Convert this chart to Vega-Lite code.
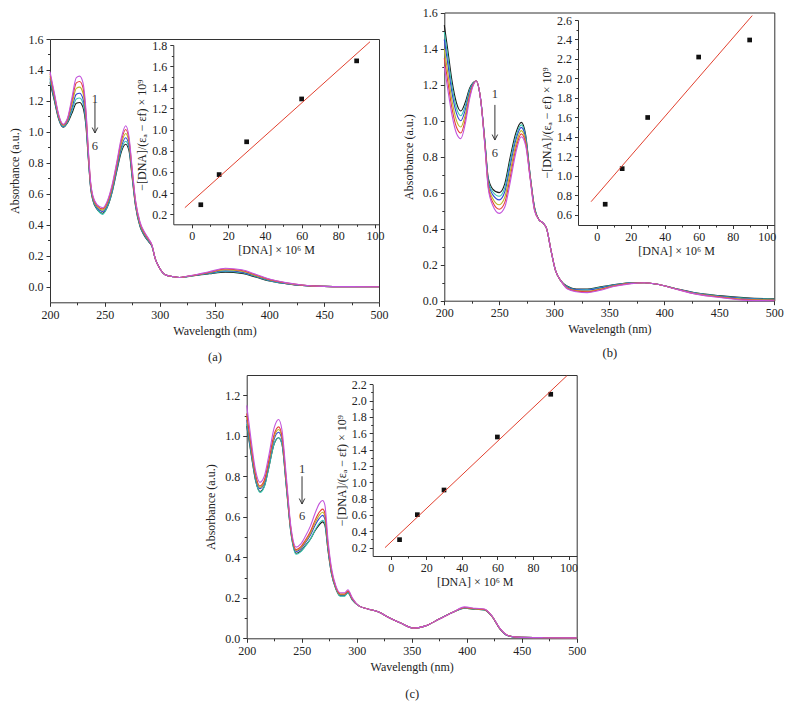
{
"$schema":"https://vega.github.io/schema/vega-lite/v6.json",
"width":790,"height":721,"autosize":{"type":"none"},"padding":0,"background":"white",
"config":{"view":{"stroke":null},"font":"Liberation Serif",
"axis":{"grid":false,"labelFont":"Liberation Serif","titleFont":"Liberation Serif","labelFontSize":12,"titleFontSize":12,"titleFontWeight":"normal","domainColor":"#333","tickColor":"#333","labelColor":"#222","titleColor":"#222","labelFlush":false,"labelOverlap":false,"tickSize":4,"labelPadding":3,"domainWidth":1,"tickWidth":1}},
"resolve":{"scale":{"x":"independent","y":"independent"},"axis":{"x":"independent","y":"independent"}},
"datasets":{
"sa":[
{"s":"k","w":200,"v":1.32},{"s":"k","w":204,"v":1.2},{"s":"k","w":208,"v":1.08},{"s":"k","w":212,"v":1.03},{"s":"k","w":216,"v":1.06},{"s":"k","w":220,"v":1.12},{"s":"k","w":224,"v":1.185},{"s":"k","w":227,"v":1.19},{"s":"k","w":230,"v":1.16},{"s":"k","w":233,"v":1.02},{"s":"k","w":235,"v":0.82},{"s":"k","w":237,"v":0.64},{"s":"k","w":239,"v":0.56},{"s":"k","w":243,"v":0.5},{"s":"k","w":248,"v":0.475},{"s":"k","w":252,"v":0.51},{"s":"k","w":257,"v":0.62},{"s":"k","w":261,"v":0.75},{"s":"k","w":265,"v":0.87},{"s":"k","w":269,"v":0.92},{"s":"k","w":272,"v":0.88},{"s":"k","w":275,"v":0.7},{"s":"k","w":278,"v":0.52},{"s":"k","w":282,"v":0.39},{"s":"k","w":286,"v":0.33},{"s":"k","w":290,"v":0.29},{"s":"k","w":293,"v":0.26},{"s":"k","w":296,"v":0.18},{"s":"k","w":300,"v":0.12},{"s":"k","w":305,"v":0.078},{"s":"k","w":312,"v":0.066},{"s":"k","w":318,"v":0.06},{"s":"k","w":325,"v":0.066},{"s":"k","w":333,"v":0.074},{"s":"k","w":345,"v":0.084},{"s":"k","w":360,"v":0.095},{"s":"k","w":375,"v":0.087},{"s":"k","w":388,"v":0.062},{"s":"k","w":400,"v":0.038},{"s":"k","w":415,"v":0.02},{"s":"k","w":430,"v":0.008},{"s":"k","w":450,"v":0.003},{"s":"k","w":475,"v":0.001},{"s":"k","w":500,"v":0},
{"s":"c","w":200,"v":1.332},{"s":"c","w":204,"v":1.209},{"s":"c","w":208,"v":1.085},{"s":"c","w":212,"v":1.033},{"s":"c","w":216,"v":1.065},{"s":"c","w":220,"v":1.137},{"s":"c","w":224,"v":1.213},{"s":"c","w":227,"v":1.219},{"s":"c","w":230,"v":1.187},{"s":"c","w":233,"v":1.037},{"s":"c","w":235,"v":0.83},{"s":"c","w":237,"v":0.647},{"s":"c","w":239,"v":0.565},{"s":"c","w":243,"v":0.503},{"s":"c","w":248,"v":0.468},{"s":"c","w":252,"v":0.512},{"s":"c","w":257,"v":0.625},{"s":"c","w":261,"v":0.76},{"s":"c","w":265,"v":0.885},{"s":"c","w":269,"v":0.94},{"s":"c","w":272,"v":0.895},{"s":"c","w":275,"v":0.71},{"s":"c","w":278,"v":0.527},{"s":"c","w":282,"v":0.395},{"s":"c","w":286,"v":0.334},{"s":"c","w":290,"v":0.293},{"s":"c","w":293,"v":0.262},{"s":"c","w":296,"v":0.18},{"s":"c","w":300,"v":0.12},{"s":"c","w":305,"v":0.078},{"s":"c","w":312,"v":0.066},{"s":"c","w":318,"v":0.06},{"s":"c","w":325,"v":0.066},{"s":"c","w":333,"v":0.075},{"s":"c","w":345,"v":0.086},{"s":"c","w":360,"v":0.099},{"s":"c","w":375,"v":0.091},{"s":"c","w":388,"v":0.065},{"s":"c","w":400,"v":0.04},{"s":"c","w":415,"v":0.021},{"s":"c","w":430,"v":0.009},{"s":"c","w":450,"v":0.003},{"s":"c","w":475,"v":0.001},{"s":"c","w":500,"v":0},
{"s":"b","w":200,"v":1.345},{"s":"b","w":204,"v":1.218},{"s":"b","w":208,"v":1.091},{"s":"b","w":212,"v":1.037},{"s":"b","w":216,"v":1.071},{"s":"b","w":220,"v":1.155},{"s":"b","w":224,"v":1.243},{"s":"b","w":227,"v":1.25},{"s":"b","w":230,"v":1.216},{"s":"b","w":233,"v":1.055},{"s":"b","w":235,"v":0.841},{"s":"b","w":237,"v":0.654},{"s":"b","w":239,"v":0.571},{"s":"b","w":243,"v":0.511},{"s":"b","w":248,"v":0.487},{"s":"b","w":252,"v":0.524},{"s":"b","w":257,"v":0.638},{"s":"b","w":261,"v":0.771},{"s":"b","w":265,"v":0.902},{"s":"b","w":269,"v":0.962},{"s":"b","w":272,"v":0.912},{"s":"b","w":275,"v":0.721},{"s":"b","w":278,"v":0.534},{"s":"b","w":282,"v":0.401},{"s":"b","w":286,"v":0.339},{"s":"b","w":290,"v":0.297},{"s":"b","w":293,"v":0.264},{"s":"b","w":296,"v":0.18},{"s":"b","w":300,"v":0.12},{"s":"b","w":305,"v":0.078},{"s":"b","w":312,"v":0.066},{"s":"b","w":318,"v":0.06},{"s":"b","w":325,"v":0.067},{"s":"b","w":333,"v":0.075},{"s":"b","w":345,"v":0.089},{"s":"b","w":360,"v":0.104},{"s":"b","w":375,"v":0.095},{"s":"b","w":388,"v":0.068},{"s":"b","w":400,"v":0.042},{"s":"b","w":415,"v":0.022},{"s":"b","w":430,"v":0.009},{"s":"b","w":450,"v":0.003},{"s":"b","w":475,"v":0.001},{"s":"b","w":500,"v":0},
{"s":"o","w":200,"v":1.361},{"s":"o","w":204,"v":1.229},{"s":"o","w":208,"v":1.097},{"s":"o","w":212,"v":1.042},{"s":"o","w":216,"v":1.077},{"s":"o","w":220,"v":1.178},{"s":"o","w":224,"v":1.281},{"s":"o","w":227,"v":1.289},{"s":"o","w":230,"v":1.253},{"s":"o","w":233,"v":1.078},{"s":"o","w":235,"v":0.855},{"s":"o","w":237,"v":0.663},{"s":"o","w":239,"v":0.577},{"s":"o","w":243,"v":0.517},{"s":"o","w":248,"v":0.495},{"s":"o","w":252,"v":0.533},{"s":"o","w":257,"v":0.649},{"s":"o","w":261,"v":0.785},{"s":"o","w":265,"v":0.922},{"s":"o","w":269,"v":0.99},{"s":"o","w":272,"v":0.932},{"s":"o","w":275,"v":0.735},{"s":"o","w":278,"v":0.543},{"s":"o","w":282,"v":0.407},{"s":"o","w":286,"v":0.345},{"s":"o","w":290,"v":0.302},{"s":"o","w":293,"v":0.266},{"s":"o","w":296,"v":0.18},{"s":"o","w":300,"v":0.12},{"s":"o","w":305,"v":0.078},{"s":"o","w":312,"v":0.066},{"s":"o","w":318,"v":0.06},{"s":"o","w":325,"v":0.067},{"s":"o","w":333,"v":0.076},{"s":"o","w":345,"v":0.092},{"s":"o","w":360,"v":0.11},{"s":"o","w":375,"v":0.1},{"s":"o","w":388,"v":0.072},{"s":"o","w":400,"v":0.045},{"s":"o","w":415,"v":0.024},{"s":"o","w":430,"v":0.01},{"s":"o","w":450,"v":0.003},{"s":"o","w":475,"v":0.001},{"s":"o","w":500,"v":0},
{"s":"r","w":200,"v":1.376},{"s":"r","w":204,"v":1.24},{"s":"r","w":208,"v":1.104},{"s":"r","w":212,"v":1.046},{"s":"r","w":216,"v":1.084},{"s":"r","w":220,"v":1.2},{"s":"r","w":224,"v":1.317},{"s":"r","w":227,"v":1.326},{"s":"r","w":230,"v":1.288},{"s":"r","w":233,"v":1.1},{"s":"r","w":235,"v":0.868},{"s":"r","w":237,"v":0.672},{"s":"r","w":239,"v":0.584},{"s":"r","w":243,"v":0.524},{"s":"r","w":248,"v":0.503},{"s":"r","w":252,"v":0.542},{"s":"r","w":257,"v":0.66},{"s":"r","w":261,"v":0.798},{"s":"r","w":265,"v":0.942},{"s":"r","w":269,"v":1.016},{"s":"r","w":272,"v":0.952},{"s":"r","w":275,"v":0.748},{"s":"r","w":278,"v":0.552},{"s":"r","w":282,"v":0.414},{"s":"r","w":286,"v":0.35},{"s":"r","w":290,"v":0.306},{"s":"r","w":293,"v":0.268},{"s":"r","w":296,"v":0.18},{"s":"r","w":300,"v":0.12},{"s":"r","w":305,"v":0.078},{"s":"r","w":312,"v":0.066},{"s":"r","w":318,"v":0.06},{"s":"r","w":325,"v":0.068},{"s":"r","w":333,"v":0.077},{"s":"r","w":345,"v":0.094},{"s":"r","w":360,"v":0.115},{"s":"r","w":375,"v":0.105},{"s":"r","w":388,"v":0.076},{"s":"r","w":400,"v":0.048},{"s":"r","w":415,"v":0.026},{"s":"r","w":430,"v":0.011},{"s":"r","w":450,"v":0.003},{"s":"r","w":475,"v":0.001},{"s":"r","w":500,"v":0},
{"s":"m","w":200,"v":1.39},{"s":"m","w":204,"v":1.25},{"s":"m","w":208,"v":1.11},{"s":"m","w":212,"v":1.05},{"s":"m","w":216,"v":1.09},{"s":"m","w":220,"v":1.22},{"s":"m","w":224,"v":1.35},{"s":"m","w":227,"v":1.36},{"s":"m","w":230,"v":1.32},{"s":"m","w":233,"v":1.12},{"s":"m","w":235,"v":0.88},{"s":"m","w":237,"v":0.68},{"s":"m","w":239,"v":0.59},{"s":"m","w":243,"v":0.53},{"s":"m","w":248,"v":0.51},{"s":"m","w":252,"v":0.55},{"s":"m","w":257,"v":0.67},{"s":"m","w":261,"v":0.81},{"s":"m","w":265,"v":0.96},{"s":"m","w":269,"v":1.04},{"s":"m","w":272,"v":0.97},{"s":"m","w":275,"v":0.76},{"s":"m","w":278,"v":0.56},{"s":"m","w":282,"v":0.42},{"s":"m","w":286,"v":0.355},{"s":"m","w":290,"v":0.31},{"s":"m","w":293,"v":0.27},{"s":"m","w":296,"v":0.18},{"s":"m","w":300,"v":0.12},{"s":"m","w":305,"v":0.078},{"s":"m","w":312,"v":0.066},{"s":"m","w":318,"v":0.06},{"s":"m","w":325,"v":0.068},{"s":"m","w":333,"v":0.078},{"s":"m","w":345,"v":0.097},{"s":"m","w":360,"v":0.12},{"s":"m","w":375,"v":0.11},{"s":"m","w":388,"v":0.08},{"s":"m","w":400,"v":0.05},{"s":"m","w":415,"v":0.027},{"s":"m","w":430,"v":0.012},{"s":"m","w":450,"v":0.003},{"s":"m","w":475,"v":0.001},{"s":"m","w":500,"v":0}
],
"sb":[
{"s":"k","w":200,"v":1.53},{"s":"k","w":203,"v":1.4},{"s":"k","w":207,"v":1.22},{"s":"k","w":211,"v":1.1},{"s":"k","w":215,"v":1.053},{"s":"k","w":219,"v":1.1},{"s":"k","w":223,"v":1.18},{"s":"k","w":226,"v":1.21},{"s":"k","w":229,"v":1.22},{"s":"k","w":233,"v":1.12},{"s":"k","w":237,"v":0.88},{"s":"k","w":240,"v":0.68},{"s":"k","w":244,"v":0.62},{"s":"k","w":250,"v":0.6},{"s":"k","w":255,"v":0.65},{"s":"k","w":260,"v":0.8},{"s":"k","w":265,"v":0.93},{"s":"k","w":270,"v":0.99},{"s":"k","w":274,"v":0.92},{"s":"k","w":278,"v":0.7},{"s":"k","w":282,"v":0.52},{"s":"k","w":286,"v":0.45},{"s":"k","w":290,"v":0.43},{"s":"k","w":293,"v":0.4},{"s":"k","w":297,"v":0.28},{"s":"k","w":301,"v":0.17},{"s":"k","w":306,"v":0.11},{"s":"k","w":312,"v":0.08},{"s":"k","w":320,"v":0.065},{"s":"k","w":330,"v":0.065},{"s":"k","w":340,"v":0.075},{"s":"k","w":355,"v":0.09},{"s":"k","w":370,"v":0.1},{"s":"k","w":382,"v":0.1},{"s":"k","w":395,"v":0.09},{"s":"k","w":410,"v":0.068},{"s":"k","w":430,"v":0.042},{"s":"k","w":450,"v":0.028},{"s":"k","w":475,"v":0.016},{"s":"k","w":500,"v":0.01},
{"s":"c","w":200,"v":1.491},{"s":"c","w":203,"v":1.363},{"s":"c","w":207,"v":1.188},{"s":"c","w":211,"v":1.071},{"s":"c","w":215,"v":1.027},{"s":"c","w":219,"v":1.08},{"s":"c","w":223,"v":1.17},{"s":"c","w":226,"v":1.207},{"s":"c","w":229,"v":1.22},{"s":"c","w":233,"v":1.12},{"s":"c","w":237,"v":0.875},{"s":"c","w":240,"v":0.67},{"s":"c","w":244,"v":0.605},{"s":"c","w":250,"v":0.58},{"s":"c","w":255,"v":0.628},{"s":"c","w":260,"v":0.776},{"s":"c","w":265,"v":0.911},{"s":"c","w":270,"v":0.976},{"s":"c","w":274,"v":0.91},{"s":"c","w":278,"v":0.697},{"s":"c","w":282,"v":0.517},{"s":"c","w":286,"v":0.45},{"s":"c","w":290,"v":0.43},{"s":"c","w":293,"v":0.4},{"s":"c","w":297,"v":0.28},{"s":"c","w":301,"v":0.17},{"s":"c","w":306,"v":0.11},{"s":"c","w":312,"v":0.077},{"s":"c","w":320,"v":0.062},{"s":"c","w":330,"v":0.062},{"s":"c","w":340,"v":0.072},{"s":"c","w":355,"v":0.088},{"s":"c","w":370,"v":0.099},{"s":"c","w":382,"v":0.1},{"s":"c","w":395,"v":0.09},{"s":"c","w":410,"v":0.067},{"s":"c","w":430,"v":0.041},{"s":"c","w":450,"v":0.026},{"s":"c","w":475,"v":0.014},{"s":"c","w":500,"v":0.008},
{"s":"b","w":200,"v":1.45},{"s":"b","w":203,"v":1.323},{"s":"b","w":207,"v":1.154},{"s":"b","w":211,"v":1.041},{"s":"b","w":215,"v":0.999},{"s":"b","w":219,"v":1.058},{"s":"b","w":223,"v":1.159},{"s":"b","w":226,"v":1.203},{"s":"b","w":229,"v":1.22},{"s":"b","w":233,"v":1.12},{"s":"b","w":237,"v":0.87},{"s":"b","w":240,"v":0.659},{"s":"b","w":244,"v":0.589},{"s":"b","w":250,"v":0.56},{"s":"b","w":255,"v":0.605},{"s":"b","w":260,"v":0.751},{"s":"b","w":265,"v":0.892},{"s":"b","w":270,"v":0.962},{"s":"b","w":274,"v":0.899},{"s":"b","w":278,"v":0.693},{"s":"b","w":282,"v":0.513},{"s":"b","w":286,"v":0.45},{"s":"b","w":290,"v":0.43},{"s":"b","w":293,"v":0.4},{"s":"b","w":297,"v":0.28},{"s":"b","w":301,"v":0.17},{"s":"b","w":306,"v":0.11},{"s":"b","w":312,"v":0.075},{"s":"b","w":320,"v":0.06},{"s":"b","w":330,"v":0.058},{"s":"b","w":340,"v":0.068},{"s":"b","w":355,"v":0.087},{"s":"b","w":370,"v":0.098},{"s":"b","w":382,"v":0.1},{"s":"b","w":395,"v":0.09},{"s":"b","w":410,"v":0.067},{"s":"b","w":430,"v":0.04},{"s":"b","w":450,"v":0.025},{"s":"b","w":475,"v":0.011},{"s":"b","w":500,"v":0.0065},
{"s":"o","w":200,"v":1.397},{"s":"o","w":203,"v":1.272},{"s":"o","w":207,"v":1.11},{"s":"o","w":211,"v":1.001},{"s":"o","w":215,"v":0.964},{"s":"o","w":219,"v":1.03},{"s":"o","w":223,"v":1.145},{"s":"o","w":226,"v":1.198},{"s":"o","w":229,"v":1.22},{"s":"o","w":233,"v":1.12},{"s":"o","w":237,"v":0.863},{"s":"o","w":240,"v":0.645},{"s":"o","w":244,"v":0.568},{"s":"o","w":250,"v":0.533},{"s":"o","w":255,"v":0.575},{"s":"o","w":260,"v":0.719},{"s":"o","w":265,"v":0.866},{"s":"o","w":270,"v":0.944},{"s":"o","w":274,"v":0.885},{"s":"o","w":278,"v":0.688},{"s":"o","w":282,"v":0.508},{"s":"o","w":286,"v":0.45},{"s":"o","w":290,"v":0.43},{"s":"o","w":293,"v":0.4},{"s":"o","w":297,"v":0.28},{"s":"o","w":301,"v":0.17},{"s":"o","w":306,"v":0.11},{"s":"o","w":312,"v":0.071},{"s":"o","w":320,"v":0.056},{"s":"o","w":330,"v":0.053},{"s":"o","w":340,"v":0.063},{"s":"o","w":355,"v":0.084},{"s":"o","w":370,"v":0.097},{"s":"o","w":382,"v":0.1},{"s":"o","w":395,"v":0.09},{"s":"o","w":410,"v":0.066},{"s":"o","w":430,"v":0.038},{"s":"o","w":450,"v":0.022},{"s":"o","w":475,"v":0.008},{"s":"o","w":500,"v":0.004},
{"s":"r","w":200,"v":1.346},{"s":"r","w":203,"v":1.224},{"s":"r","w":207,"v":1.068},{"s":"r","w":211,"v":0.964},{"s":"r","w":215,"v":0.931},{"s":"r","w":219,"v":1.004},{"s":"r","w":223,"v":1.132},{"s":"r","w":226,"v":1.194},{"s":"r","w":229,"v":1.22},{"s":"r","w":233,"v":1.12},{"s":"r","w":237,"v":0.856},{"s":"r","w":240,"v":0.632},{"s":"r","w":244,"v":0.548},{"s":"r","w":250,"v":0.508},{"s":"r","w":255,"v":0.546},{"s":"r","w":260,"v":0.688},{"s":"r","w":265,"v":0.842},{"s":"r","w":270,"v":0.926},{"s":"r","w":274,"v":0.872},{"s":"r","w":278,"v":0.684},{"s":"r","w":282,"v":0.504},{"s":"r","w":286,"v":0.45},{"s":"r","w":290,"v":0.43},{"s":"r","w":293,"v":0.4},{"s":"r","w":297,"v":0.28},{"s":"r","w":301,"v":0.17},{"s":"r","w":306,"v":0.11},{"s":"r","w":312,"v":0.068},{"s":"r","w":320,"v":0.053},{"s":"r","w":330,"v":0.049},{"s":"r","w":340,"v":0.059},{"s":"r","w":355,"v":0.082},{"s":"r","w":370,"v":0.096},{"s":"r","w":382,"v":0.1},{"s":"r","w":395,"v":0.09},{"s":"r","w":410,"v":0.066},{"s":"r","w":430,"v":0.036},{"s":"r","w":450,"v":0.02},{"s":"r","w":475,"v":0.005},{"s":"r","w":500,"v":0.002},
{"s":"m","w":200,"v":1.3},{"s":"m","w":203,"v":1.18},{"s":"m","w":207,"v":1.03},{"s":"m","w":211,"v":0.93},{"s":"m","w":215,"v":0.9},{"s":"m","w":219,"v":0.98},{"s":"m","w":223,"v":1.12},{"s":"m","w":226,"v":1.19},{"s":"m","w":229,"v":1.22},{"s":"m","w":233,"v":1.12},{"s":"m","w":237,"v":0.85},{"s":"m","w":240,"v":0.62},{"s":"m","w":244,"v":0.53},{"s":"m","w":250,"v":0.485},{"s":"m","w":255,"v":0.52},{"s":"m","w":260,"v":0.66},{"s":"m","w":265,"v":0.82},{"s":"m","w":270,"v":0.91},{"s":"m","w":274,"v":0.86},{"s":"m","w":278,"v":0.68},{"s":"m","w":282,"v":0.5},{"s":"m","w":286,"v":0.45},{"s":"m","w":290,"v":0.43},{"s":"m","w":293,"v":0.4},{"s":"m","w":297,"v":0.28},{"s":"m","w":301,"v":0.17},{"s":"m","w":306,"v":0.11},{"s":"m","w":312,"v":0.065},{"s":"m","w":320,"v":0.05},{"s":"m","w":330,"v":0.045},{"s":"m","w":340,"v":0.055},{"s":"m","w":355,"v":0.08},{"s":"m","w":370,"v":0.095},{"s":"m","w":382,"v":0.1},{"s":"m","w":395,"v":0.09},{"s":"m","w":410,"v":0.065},{"s":"m","w":430,"v":0.035},{"s":"m","w":450,"v":0.018},{"s":"m","w":475,"v":0.002},{"s":"m","w":500,"v":0}
],
"sc":[
{"s":"k","w":200,"v":1.05},{"s":"k","w":204,"v":0.91},{"s":"k","w":208,"v":0.78},{"s":"k","w":212,"v":0.725},{"s":"k","w":216,"v":0.75},{"s":"k","w":220,"v":0.84},{"s":"k","w":225,"v":0.96},{"s":"k","w":229,"v":0.99},{"s":"k","w":232,"v":0.96},{"s":"k","w":236,"v":0.75},{"s":"k","w":240,"v":0.53},{"s":"k","w":245,"v":0.42},{"s":"k","w":249,"v":0.43},{"s":"k","w":253,"v":0.455},{"s":"k","w":258,"v":0.49},{"s":"k","w":262,"v":0.53},{"s":"k","w":266,"v":0.56},{"s":"k","w":269,"v":0.575},{"s":"k","w":271,"v":0.56},{"s":"k","w":274,"v":0.43},{"s":"k","w":277,"v":0.32},{"s":"k","w":281,"v":0.245},{"s":"k","w":285,"v":0.21},{"s":"k","w":289,"v":0.21},{"s":"k","w":292,"v":0.225},{"s":"k","w":296,"v":0.19},{"s":"k","w":302,"v":0.16},{"s":"k","w":310,"v":0.145},{"s":"k","w":320,"v":0.13},{"s":"k","w":330,"v":0.1},{"s":"k","w":340,"v":0.075},{"s":"k","w":352,"v":0.05},{"s":"k","w":362,"v":0.06},{"s":"k","w":375,"v":0.095},{"s":"k","w":388,"v":0.13},{"s":"k","w":398,"v":0.148},{"s":"k","w":408,"v":0.143},{"s":"k","w":416,"v":0.14},{"s":"k","w":423,"v":0.108},{"s":"k","w":430,"v":0.048},{"s":"k","w":437,"v":0.014},{"s":"k","w":445,"v":0.006},{"s":"k","w":470,"v":0.003},{"s":"k","w":500,"v":0.002},
{"s":"c","w":200,"v":1.058},{"s":"c","w":204,"v":0.916},{"s":"c","w":208,"v":0.784},{"s":"c","w":212,"v":0.72},{"s":"c","w":216,"v":0.748},{"s":"c","w":220,"v":0.84},{"s":"c","w":225,"v":0.962},{"s":"c","w":229,"v":0.99},{"s":"c","w":232,"v":0.96},{"s":"c","w":236,"v":0.75},{"s":"c","w":240,"v":0.528},{"s":"c","w":245,"v":0.415},{"s":"c","w":249,"v":0.427},{"s":"c","w":253,"v":0.452},{"s":"c","w":258,"v":0.49},{"s":"c","w":262,"v":0.533},{"s":"c","w":266,"v":0.568},{"s":"c","w":269,"v":0.583},{"s":"c","w":271,"v":0.568},{"s":"c","w":274,"v":0.434},{"s":"c","w":277,"v":0.322},{"s":"c","w":281,"v":0.246},{"s":"c","w":285,"v":0.208},{"s":"c","w":289,"v":0.208},{"s":"c","w":292,"v":0.224},{"s":"c","w":296,"v":0.19},{"s":"c","w":302,"v":0.16},{"s":"c","w":310,"v":0.145},{"s":"c","w":320,"v":0.13},{"s":"c","w":330,"v":0.1},{"s":"c","w":340,"v":0.075},{"s":"c","w":352,"v":0.05},{"s":"c","w":362,"v":0.06},{"s":"c","w":375,"v":0.095},{"s":"c","w":388,"v":0.13},{"s":"c","w":398,"v":0.149},{"s":"c","w":408,"v":0.143},{"s":"c","w":416,"v":0.14},{"s":"c","w":423,"v":0.108},{"s":"c","w":430,"v":0.048},{"s":"c","w":437,"v":0.014},{"s":"c","w":445,"v":0.006},{"s":"c","w":470,"v":0.003},{"s":"c","w":500,"v":0.002},
{"s":"b","w":200,"v":1.08},{"s":"b","w":204,"v":0.931},{"s":"b","w":208,"v":0.795},{"s":"b","w":212,"v":0.739},{"s":"b","w":216,"v":0.765},{"s":"b","w":220,"v":0.858},{"s":"b","w":225,"v":0.984},{"s":"b","w":229,"v":1.017},{"s":"b","w":232,"v":0.981},{"s":"b","w":236,"v":0.765},{"s":"b","w":240,"v":0.539},{"s":"b","w":245,"v":0.429},{"s":"b","w":249,"v":0.441},{"s":"b","w":253,"v":0.469},{"s":"b","w":258,"v":0.51},{"s":"b","w":262,"v":0.556},{"s":"b","w":266,"v":0.592},{"s":"b","w":269,"v":0.607},{"s":"b","w":271,"v":0.59},{"s":"b","w":274,"v":0.445},{"s":"b","w":277,"v":0.329},{"s":"b","w":281,"v":0.25},{"s":"b","w":285,"v":0.215},{"s":"b","w":289,"v":0.215},{"s":"b","w":292,"v":0.23},{"s":"b","w":296,"v":0.193},{"s":"b","w":302,"v":0.16},{"s":"b","w":310,"v":0.145},{"s":"b","w":320,"v":0.13},{"s":"b","w":330,"v":0.1},{"s":"b","w":340,"v":0.075},{"s":"b","w":352,"v":0.05},{"s":"b","w":362,"v":0.06},{"s":"b","w":375,"v":0.095},{"s":"b","w":388,"v":0.13},{"s":"b","w":398,"v":0.15},{"s":"b","w":408,"v":0.145},{"s":"b","w":416,"v":0.142},{"s":"b","w":423,"v":0.109},{"s":"b","w":430,"v":0.049},{"s":"b","w":437,"v":0.014},{"s":"b","w":445,"v":0.006},{"s":"b","w":470,"v":0.003},{"s":"b","w":500,"v":0.002},
{"s":"o","w":200,"v":1.095},{"s":"o","w":204,"v":0.942},{"s":"o","w":208,"v":0.803},{"s":"o","w":212,"v":0.745},{"s":"o","w":216,"v":0.773},{"s":"o","w":220,"v":0.867},{"s":"o","w":225,"v":0.996},{"s":"o","w":229,"v":1.031},{"s":"o","w":232,"v":0.992},{"s":"o","w":236,"v":0.773},{"s":"o","w":240,"v":0.544},{"s":"o","w":245,"v":0.434},{"s":"o","w":249,"v":0.446},{"s":"o","w":253,"v":0.475},{"s":"o","w":258,"v":0.519},{"s":"o","w":262,"v":0.568},{"s":"o","w":266,"v":0.607},{"s":"o","w":269,"v":0.622},{"s":"o","w":271,"v":0.605},{"s":"o","w":274,"v":0.453},{"s":"o","w":277,"v":0.334},{"s":"o","w":281,"v":0.252},{"s":"o","w":285,"v":0.217},{"s":"o","w":289,"v":0.217},{"s":"o","w":292,"v":0.232},{"s":"o","w":296,"v":0.195},{"s":"o","w":302,"v":0.16},{"s":"o","w":310,"v":0.145},{"s":"o","w":320,"v":0.13},{"s":"o","w":330,"v":0.1},{"s":"o","w":340,"v":0.075},{"s":"o","w":352,"v":0.05},{"s":"o","w":362,"v":0.06},{"s":"o","w":375,"v":0.095},{"s":"o","w":388,"v":0.13},{"s":"o","w":398,"v":0.151},{"s":"o","w":408,"v":0.145},{"s":"o","w":416,"v":0.142},{"s":"o","w":423,"v":0.109},{"s":"o","w":430,"v":0.049},{"s":"o","w":437,"v":0.015},{"s":"o","w":445,"v":0.006},{"s":"o","w":470,"v":0.003},{"s":"o","w":500,"v":0.002},
{"s":"r","w":200,"v":1.11},{"s":"r","w":204,"v":0.952},{"s":"r","w":208,"v":0.81},{"s":"r","w":212,"v":0.752},{"s":"r","w":216,"v":0.78},{"s":"r","w":220,"v":0.876},{"s":"r","w":225,"v":1.008},{"s":"r","w":229,"v":1.044},{"s":"r","w":232,"v":1.002},{"s":"r","w":236,"v":0.78},{"s":"r","w":240,"v":0.548},{"s":"r","w":245,"v":0.438},{"s":"r","w":249,"v":0.451},{"s":"r","w":253,"v":0.482},{"s":"r","w":258,"v":0.529},{"s":"r","w":262,"v":0.581},{"s":"r","w":266,"v":0.623},{"s":"r","w":269,"v":0.638},{"s":"r","w":271,"v":0.62},{"s":"r","w":274,"v":0.46},{"s":"r","w":277,"v":0.338},{"s":"r","w":281,"v":0.254},{"s":"r","w":285,"v":0.219},{"s":"r","w":289,"v":0.219},{"s":"r","w":292,"v":0.234},{"s":"r","w":296,"v":0.196},{"s":"r","w":302,"v":0.16},{"s":"r","w":310,"v":0.145},{"s":"r","w":320,"v":0.13},{"s":"r","w":330,"v":0.1},{"s":"r","w":340,"v":0.075},{"s":"r","w":352,"v":0.05},{"s":"r","w":362,"v":0.06},{"s":"r","w":375,"v":0.095},{"s":"r","w":388,"v":0.13},{"s":"r","w":398,"v":0.152},{"s":"r","w":408,"v":0.146},{"s":"r","w":416,"v":0.143},{"s":"r","w":423,"v":0.109},{"s":"r","w":430,"v":0.049},{"s":"r","w":437,"v":0.015},{"s":"r","w":445,"v":0.006},{"s":"r","w":470,"v":0.003},{"s":"r","w":500,"v":0.002},
{"s":"m","w":200,"v":1.15},{"s":"m","w":204,"v":0.98},{"s":"m","w":208,"v":0.83},{"s":"m","w":212,"v":0.77},{"s":"m","w":216,"v":0.8},{"s":"m","w":220,"v":0.9},{"s":"m","w":225,"v":1.04},{"s":"m","w":229,"v":1.08},{"s":"m","w":232,"v":1.03},{"s":"m","w":236,"v":0.8},{"s":"m","w":240,"v":0.56},{"s":"m","w":245,"v":0.45},{"s":"m","w":249,"v":0.465},{"s":"m","w":253,"v":0.5},{"s":"m","w":258,"v":0.555},{"s":"m","w":262,"v":0.615},{"s":"m","w":266,"v":0.665},{"s":"m","w":269,"v":0.68},{"s":"m","w":271,"v":0.66},{"s":"m","w":274,"v":0.48},{"s":"m","w":277,"v":0.35},{"s":"m","w":281,"v":0.26},{"s":"m","w":285,"v":0.225},{"s":"m","w":289,"v":0.225},{"s":"m","w":292,"v":0.24},{"s":"m","w":296,"v":0.2},{"s":"m","w":302,"v":0.16},{"s":"m","w":310,"v":0.145},{"s":"m","w":320,"v":0.13},{"s":"m","w":330,"v":0.1},{"s":"m","w":340,"v":0.075},{"s":"m","w":352,"v":0.05},{"s":"m","w":362,"v":0.06},{"s":"m","w":375,"v":0.095},{"s":"m","w":388,"v":0.13},{"s":"m","w":398,"v":0.155},{"s":"m","w":408,"v":0.148},{"s":"m","w":416,"v":0.145},{"s":"m","w":423,"v":0.11},{"s":"m","w":430,"v":0.05},{"s":"m","w":437,"v":0.015},{"s":"m","w":445,"v":0.006},{"s":"m","w":470,"v":0.003},{"s":"m","w":500,"v":0.002}
],
"ann":[{"p":"a","w":241,"v":1.213,"t":"1"},{"p":"a","w":241,"v":0.909,"t":"6"},{"p":"b","w":246,"v":1.146,"t":"1"},{"p":"b","w":246,"v":0.82,"t":"6"},{"p":"c","w":250.3,"v":0.836,"t":"1"},{"p":"c","w":250.3,"v":0.602,"t":"6"}],
"arr":[{"p":"a","w":241,"v":1.187,"v2":0.993},{"p":"b","w":246,"v":1.087,"v2":0.892},{"p":"c","w":250.3,"v":0.8,"v2":0.663}],
"pts":[{"p":"a","x":5,"y":0.29},{"p":"a","x":15,"y":0.575},{"p":"a","x":30,"y":0.885},{"p":"a","x":60,"y":1.29},{"p":"a","x":90,"y":1.65},
{"p":"b","x":5,"y":0.71},{"p":"b","x":15,"y":1.075},{"p":"b","x":30,"y":1.6},{"p":"b","x":60,"y":2.22},{"p":"b","x":90,"y":2.395},
{"p":"c","x":5,"y":0.298},{"p":"c","x":15,"y":0.604},{"p":"c","x":30,"y":0.906},{"p":"c","x":60,"y":1.555},{"p":"c","x":90,"y":2.078}],
"fit":[{"p":"a","x":-3.7,"y":0.262,"x2":97.3,"y2":1.831},{"p":"b","x":-3.3,"y":0.736,"x2":91.5,"y2":2.645},{"p":"c","x":-3.2,"y":0.2,"x2":99.1,"y2":2.305}]
},
"layer":[
{"data":{"name":"sa"},"mark":{"type":"line","strokeWidth":1.1,"interpolate":"monotone"},
"encoding":{"x":{"field":"w","type":"quantitative","scale":{"domain":[200,500],"range":[50,379],"nice":false,"zero":false},"axis":{"orient":"bottom","offset":-418.7,"values":[200,250,300,350,400,450,500],"title":"Wavelength (nm)","titlePadding":5}},
"y":{"field":"v","type":"quantitative","scale":{"domain":[-0.1,1.6],"range":[302.3,39],"nice":false,"zero":false},"axis":{"orient":"left","offset":-50,"values":[0,0.2,0.4,0.6,0.8,1,1.2,1.4,1.6],"format":".1f","title":"Absorbance (a.u.)","titlePadding":7}},
"color":{"field":"s","type":"nominal","scale":{"domain":["k","c","b","o","r","m"],"range":["#1a1a1a","#35c6b0","#3344d4","#b9b826","#e5413a","#c355dc"]},"legend":null}}},
{"data":{"name":"arr"},"transform":[{"filter":"datum.p==='a'"}],"mark":{"type":"point","opacity":0},
"encoding":{"x":{"field":"w","type":"quantitative","scale":{"domain":[200,500],"range":[50,379],"nice":false,"zero":false},"axis":{"orient":"top","offset":-39,"labels":false,"ticks":false,"title":null}},
"y":{"field":"v","type":"quantitative","scale":{"domain":[-0.1,1.6],"range":[302.3,39],"nice":false,"zero":false},"axis":{"orient":"right","offset":-411,"labels":false,"ticks":false,"title":null}}}},
{"data":{"name":"arr"},"transform":[{"filter":"datum.p==='a'"}],"mark":{"type":"point","opacity":0},
"encoding":{"x":{"field":"w","type":"quantitative","scale":{"domain":[200,500],"range":[50,379],"nice":false,"zero":false},"axis":{"orient":"bottom","offset":-418.7,"values":[225,275,325,375,425,475],"labels":false,"domain":false,"tickSize":2.5,"title":"(a)","titleFontSize":12.5,"titlePadding":45}},
"y":{"field":"v","type":"quantitative","scale":{"domain":[-0.1,1.6],"range":[302.3,39],"nice":false,"zero":false},"axis":{"orient":"left","offset":-50,"values":[0.1,0.3,0.5,0.7,0.9,1.1,1.3,1.5],"labels":false,"domain":false,"tickSize":2.5,"title":null}}}},
{"data":{"name":"ann"},"transform":[{"filter":"datum.p==='a'"}],"mark":{"type":"text","fontSize":12.5,"font":"Liberation Serif","fill":"#333","color":"#333"},
"encoding":{"x":{"field":"w","type":"quantitative","scale":{"domain":[200,500],"range":[50,379],"nice":false,"zero":false},"axis":null},
"y":{"field":"v","type":"quantitative","scale":{"domain":[-0.1,1.6],"range":[302.3,39],"nice":false,"zero":false},"axis":null},"text":{"field":"t"}}},
{"data":{"name":"arr"},"transform":[{"filter":"datum.p==='a'"}],"mark":{"type":"rule","color":"#333","strokeWidth":1},
"encoding":{"x":{"field":"w","type":"quantitative","scale":{"domain":[200,500],"range":[50,379],"nice":false,"zero":false},"axis":null},
"y":{"field":"v","type":"quantitative","scale":{"domain":[-0.1,1.6],"range":[302.3,39],"nice":false,"zero":false},"axis":null},"y2":{"field":"v2"}}},
{"data":{"name":"arr"},"transform":[{"filter":"datum.p==='a'"}],"mark":{"type":"point","shape":"M-0.5,-1L0,0L0.5,-1","filled":false,"size":120,"color":"#333","strokeWidth":1,"opacity":1},
"encoding":{"x":{"field":"w","type":"quantitative","scale":{"domain":[200,500],"range":[50,379],"nice":false,"zero":false},"axis":null},
"y":{"field":"v2","type":"quantitative","scale":{"domain":[-0.1,1.6],"range":[302.3,39],"nice":false,"zero":false},"axis":null}}},
{"data":{"name":"pts"},"transform":[{"filter":"datum.p==='a'"}],"mark":{"type":"square","size":22,"color":"#111","opacity":1},
"encoding":{"x":{"field":"x","type":"quantitative","scale":{"domain":[-10,102.2],"range":[173.3,379],"nice":false,"zero":false},"axis":{"orient":"bottom","offset":-496.7,"values":[0,20,40,60,80,100],"tickSize":3.5,"title":"[DNA] × 10⁶ M","titlePadding":3}},
"y":{"field":"y","type":"quantitative","scale":{"domain":[0.105,1.8],"range":[224.3,45],"nice":false,"zero":false},"axis":{"orient":"left","offset":-173.3,"values":[0.2,0.4,0.6,0.8,1,1.2,1.4,1.6,1.8],"format":".1f","tickSize":3.5,"title":"−[DNA]/(εₐ − εf) × 10⁹","titlePadding":3}}}},
{"data":{"name":"fit"},"transform":[{"filter":"datum.p==='a'"}],"mark":{"type":"rule","color":"#e2412f","strokeWidth":1},
"encoding":{"x":{"field":"x","type":"quantitative","scale":{"domain":[-10,102.2],"range":[173.3,379],"nice":false,"zero":false},"axis":null},"x2":{"field":"x2"},
"y":{"field":"y","type":"quantitative","scale":{"domain":[0.105,1.8],"range":[224.3,45],"nice":false,"zero":false},"axis":null},"y2":{"field":"y2"}}},
{"data":{"name":"pts"},"transform":[{"filter":"datum.p==='a'"}],"mark":{"type":"point","opacity":0},
"encoding":{"x":{"field":"x","type":"quantitative","scale":{"domain":[-10,102.2],"range":[173.3,379],"nice":false,"zero":false},"axis":{"orient":"bottom","offset":-496.7,"values":[10,30,50,70,90],"labels":false,"domain":false,"tickSize":2,"title":null}},
"y":{"field":"y","type":"quantitative","scale":{"domain":[0.105,1.8],"range":[224.3,45],"nice":false,"zero":false},"axis":{"orient":"left","offset":-173.3,"values":[0.3,0.5,0.7,0.9,1.1,1.3,1.5,1.7],"labels":false,"domain":false,"tickSize":2,"title":null}}}},

{"data":{"name":"sb"},"mark":{"type":"line","strokeWidth":1.1,"interpolate":"monotone"},
"encoding":{"x":{"field":"w","type":"quantitative","scale":{"domain":[200,500],"range":[444.3,774.3],"nice":false,"zero":false},"axis":{"orient":"bottom","offset":-420.3,"values":[200,250,300,350,400,450,500],"title":"Wavelength (nm)","titlePadding":5}},
"y":{"field":"v","type":"quantitative","scale":{"domain":[0,1.6],"range":[300.7,12.5],"nice":false,"zero":false},"axis":{"orient":"left","offset":-444.3,"values":[0,0.2,0.4,0.6,0.8,1,1.2,1.4,1.6],"format":".1f","title":"Absorbance (a.u.)","titlePadding":7}},
"color":{"field":"s","type":"nominal","scale":{"domain":["k","c","b","o","r","m"],"range":["#1a1a1a","#35c6b0","#3344d4","#b9b826","#e5413a","#c355dc"]},"legend":null}}},
{"data":{"name":"arr"},"transform":[{"filter":"datum.p==='b'"}],"mark":{"type":"point","opacity":0},
"encoding":{"x":{"field":"w","type":"quantitative","scale":{"domain":[200,500],"range":[444.3,774.3],"nice":false,"zero":false},"axis":{"orient":"top","offset":-12.5,"labels":false,"ticks":false,"title":null}},
"y":{"field":"v","type":"quantitative","scale":{"domain":[0,1.6],"range":[300.7,12.5],"nice":false,"zero":false},"axis":{"orient":"right","offset":-15.7,"labels":false,"ticks":false,"title":null}}}},
{"data":{"name":"arr"},"transform":[{"filter":"datum.p==='b'"}],"mark":{"type":"point","opacity":0},
"encoding":{"x":{"field":"w","type":"quantitative","scale":{"domain":[200,500],"range":[444.3,774.3],"nice":false,"zero":false},"axis":{"orient":"bottom","offset":-420.3,"values":[225,275,325,375,425,475],"labels":false,"domain":false,"tickSize":2.5,"title":"(b)","titleFontSize":12.5,"titlePadding":43}},
"y":{"field":"v","type":"quantitative","scale":{"domain":[0,1.6],"range":[300.7,12.5],"nice":false,"zero":false},"axis":{"orient":"left","offset":-444.3,"values":[0.1,0.3,0.5,0.7,0.9,1.1,1.3,1.5],"labels":false,"domain":false,"tickSize":2.5,"title":null}}}},
{"data":{"name":"ann"},"transform":[{"filter":"datum.p==='b'"}],"mark":{"type":"text","fontSize":12.5,"font":"Liberation Serif","fill":"#333","color":"#333"},
"encoding":{"x":{"field":"w","type":"quantitative","scale":{"domain":[200,500],"range":[444.3,774.3],"nice":false,"zero":false},"axis":null},
"y":{"field":"v","type":"quantitative","scale":{"domain":[0,1.6],"range":[300.7,12.5],"nice":false,"zero":false},"axis":null},"text":{"field":"t"}}},
{"data":{"name":"arr"},"transform":[{"filter":"datum.p==='b'"}],"mark":{"type":"rule","color":"#333","strokeWidth":1},
"encoding":{"x":{"field":"w","type":"quantitative","scale":{"domain":[200,500],"range":[444.3,774.3],"nice":false,"zero":false},"axis":null},
"y":{"field":"v","type":"quantitative","scale":{"domain":[0,1.6],"range":[300.7,12.5],"nice":false,"zero":false},"axis":null},"y2":{"field":"v2"}}},
{"data":{"name":"arr"},"transform":[{"filter":"datum.p==='b'"}],"mark":{"type":"point","shape":"M-0.5,-1L0,0L0.5,-1","filled":false,"size":120,"color":"#333","strokeWidth":1,"opacity":1},
"encoding":{"x":{"field":"w","type":"quantitative","scale":{"domain":[200,500],"range":[444.3,774.3],"nice":false,"zero":false},"axis":null},
"y":{"field":"v2","type":"quantitative","scale":{"domain":[0,1.6],"range":[300.7,12.5],"nice":false,"zero":false},"axis":null}}},
{"data":{"name":"pts"},"transform":[{"filter":"datum.p==='b'"}],"mark":{"type":"square","size":22,"color":"#111","opacity":1},
"encoding":{"x":{"field":"x","type":"quantitative","scale":{"domain":[-11,104.5],"range":[578,774.3],"nice":false,"zero":false},"axis":{"orient":"bottom","offset":-496,"values":[0,20,40,60,80,100],"tickSize":3.5,"title":"[DNA] × 10⁶ M","titlePadding":3}},
"y":{"field":"y","type":"quantitative","scale":{"domain":[0.497,2.6],"range":[225,20],"nice":false,"zero":false},"axis":{"orient":"left","offset":-578,"values":[0.6,0.8,1,1.2,1.4,1.6,1.8,2,2.2,2.4,2.6],"format":".1f","tickSize":3.5,"title":"−[DNA]/(εₐ − εf) × 10⁹","titlePadding":3}}}},
{"data":{"name":"fit"},"transform":[{"filter":"datum.p==='b'"}],"mark":{"type":"rule","color":"#e2412f","strokeWidth":1},
"encoding":{"x":{"field":"x","type":"quantitative","scale":{"domain":[-11,104.5],"range":[578,774.3],"nice":false,"zero":false},"axis":null},"x2":{"field":"x2"},
"y":{"field":"y","type":"quantitative","scale":{"domain":[0.497,2.6],"range":[225,20],"nice":false,"zero":false},"axis":null},"y2":{"field":"y2"}}},
{"data":{"name":"pts"},"transform":[{"filter":"datum.p==='b'"}],"mark":{"type":"point","opacity":0},
"encoding":{"x":{"field":"x","type":"quantitative","scale":{"domain":[-11,104.5],"range":[578,774.3],"nice":false,"zero":false},"axis":{"orient":"bottom","offset":-496,"values":[10,30,50,70,90],"labels":false,"domain":false,"tickSize":2,"title":null}},
"y":{"field":"y","type":"quantitative","scale":{"domain":[0.497,2.6],"range":[225,20],"nice":false,"zero":false},"axis":{"orient":"left","offset":-578,"values":[0.7,0.9,1.1,1.3,1.5,1.7,1.9,2.1,2.3,2.5],"labels":false,"domain":false,"tickSize":2,"title":null}}}},

{"data":{"name":"sc"},"mark":{"type":"line","strokeWidth":1.1,"interpolate":"monotone"},
"encoding":{"x":{"field":"w","type":"quantitative","scale":{"domain":[200,500],"range":[246.7,576.7],"nice":false,"zero":false},"axis":{"orient":"bottom","offset":-82.7,"values":[200,250,300,350,400,450,500],"title":"Wavelength (nm)","titlePadding":5}},
"y":{"field":"v","type":"quantitative","scale":{"domain":[0,1.3],"range":[638.3,375],"nice":false,"zero":false},"axis":{"orient":"left","offset":-246.7,"values":[0,0.2,0.4,0.6,0.8,1,1.2],"format":".1f","title":"Absorbance (a.u.)","titlePadding":7}},
"color":{"field":"s","type":"nominal","scale":{"domain":["k","c","b","o","r","m"],"range":["#1a1a1a","#35c6b0","#3344d4","#b9b826","#e5413a","#c355dc"]},"legend":null}}},
{"data":{"name":"arr"},"transform":[{"filter":"datum.p==='c'"}],"mark":{"type":"point","opacity":0},
"encoding":{"x":{"field":"w","type":"quantitative","scale":{"domain":[200,500],"range":[246.7,576.7],"nice":false,"zero":false},"axis":{"orient":"top","offset":-375,"labels":false,"ticks":false,"title":null}},
"y":{"field":"v","type":"quantitative","scale":{"domain":[0,1.3],"range":[638.3,375],"nice":false,"zero":false},"axis":{"orient":"right","offset":-213.3,"labels":false,"ticks":false,"title":null}}}},
{"data":{"name":"arr"},"transform":[{"filter":"datum.p==='c'"}],"mark":{"type":"point","opacity":0},
"encoding":{"x":{"field":"w","type":"quantitative","scale":{"domain":[200,500],"range":[246.7,576.7],"nice":false,"zero":false},"axis":{"orient":"bottom","offset":-82.7,"values":[225,275,325,375,425,475],"labels":false,"domain":false,"tickSize":2.5,"title":"(c)","titleFontSize":12.5,"titlePadding":46}},
"y":{"field":"v","type":"quantitative","scale":{"domain":[0,1.3],"range":[638.3,375],"nice":false,"zero":false},"axis":{"orient":"left","offset":-246.7,"values":[0.1,0.3,0.5,0.7,0.9,1.1],"labels":false,"domain":false,"tickSize":2.5,"title":null}}}},
{"data":{"name":"ann"},"transform":[{"filter":"datum.p==='c'"}],"mark":{"type":"text","fontSize":12.5,"font":"Liberation Serif","fill":"#333","color":"#333"},
"encoding":{"x":{"field":"w","type":"quantitative","scale":{"domain":[200,500],"range":[246.7,576.7],"nice":false,"zero":false},"axis":null},
"y":{"field":"v","type":"quantitative","scale":{"domain":[0,1.3],"range":[638.3,375],"nice":false,"zero":false},"axis":null},"text":{"field":"t"}}},
{"data":{"name":"arr"},"transform":[{"filter":"datum.p==='c'"}],"mark":{"type":"rule","color":"#333","strokeWidth":1},
"encoding":{"x":{"field":"w","type":"quantitative","scale":{"domain":[200,500],"range":[246.7,576.7],"nice":false,"zero":false},"axis":null},
"y":{"field":"v","type":"quantitative","scale":{"domain":[0,1.3],"range":[638.3,375],"nice":false,"zero":false},"axis":null},"y2":{"field":"v2"}}},
{"data":{"name":"arr"},"transform":[{"filter":"datum.p==='c'"}],"mark":{"type":"point","shape":"M-0.5,-1L0,0L0.5,-1","filled":false,"size":120,"color":"#333","strokeWidth":1,"opacity":1},
"encoding":{"x":{"field":"w","type":"quantitative","scale":{"domain":[200,500],"range":[246.7,576.7],"nice":false,"zero":false},"axis":null},
"y":{"field":"v2","type":"quantitative","scale":{"domain":[0,1.3],"range":[638.3,375],"nice":false,"zero":false},"axis":null}}},
{"data":{"name":"pts"},"transform":[{"filter":"datum.p==='c'"}],"mark":{"type":"square","size":22,"color":"#111","opacity":1},
"encoding":{"x":{"field":"x","type":"quantitative","scale":{"domain":[-10.1,104.6],"range":[372.7,576.7],"nice":false,"zero":false},"axis":{"orient":"bottom","offset":-165,"values":[0,20,40,60,80,100],"tickSize":3.5,"title":"[DNA] × 10⁶ M","titlePadding":3}},
"y":{"field":"y","type":"quantitative","scale":{"domain":[0.098,2.2],"range":[556,384.3],"nice":false,"zero":false},"axis":{"orient":"left","offset":-372.7,"values":[0.2,0.4,0.6,0.8,1,1.2,1.4,1.6,1.8,2,2.2],"format":".1f","tickSize":3.5,"title":"−[DNA]/(εₐ − εf) × 10⁹","titlePadding":3}}}},
{"data":{"name":"fit"},"transform":[{"filter":"datum.p==='c'"}],"mark":{"type":"rule","color":"#e2412f","strokeWidth":1},
"encoding":{"x":{"field":"x","type":"quantitative","scale":{"domain":[-10.1,104.6],"range":[372.7,576.7],"nice":false,"zero":false},"axis":null},"x2":{"field":"x2"},
"y":{"field":"y","type":"quantitative","scale":{"domain":[0.098,2.2],"range":[556,384.3],"nice":false,"zero":false},"axis":null},"y2":{"field":"y2"}}},
{"data":{"name":"pts"},"transform":[{"filter":"datum.p==='c'"}],"mark":{"type":"point","opacity":0},
"encoding":{"x":{"field":"x","type":"quantitative","scale":{"domain":[-10.1,104.6],"range":[372.7,576.7],"nice":false,"zero":false},"axis":{"orient":"bottom","offset":-165,"values":[10,30,50,70,90],"labels":false,"domain":false,"tickSize":2,"title":null}},
"y":{"field":"y","type":"quantitative","scale":{"domain":[0.098,2.2],"range":[556,384.3],"nice":false,"zero":false},"axis":{"orient":"left","offset":-372.7,"values":[0.3,0.5,0.7,0.9,1.1,1.3,1.5,1.7,1.9,2.1],"labels":false,"domain":false,"tickSize":2,"title":null}}}}
]
}
